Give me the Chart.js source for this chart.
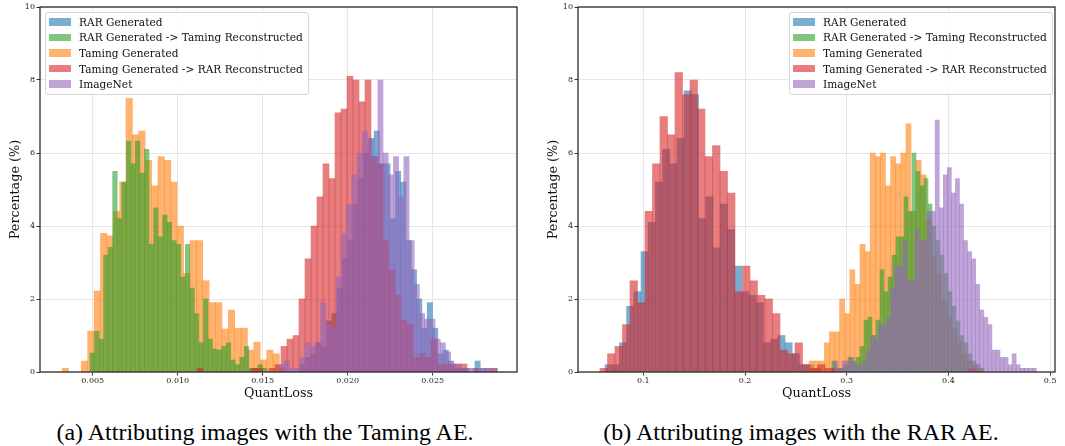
<!DOCTYPE html>
<html><head><meta charset="utf-8">
<script src="https://cdn.jsdelivr.net/npm/chart.js@4.4.1/dist/chart.umd.min.js"></script>
<style>
html,body{margin:0;padding:0;background:#fff;}
#wrap{position:relative;width:1065px;height:446px;overflow:hidden;}
canvas{position:absolute;top:0;}
.legend{position:absolute;top:12px;background:rgba(255,255,255,0.85);border:1px solid #d6d6d6;border-radius:3px;padding:1px 5px 2px 3px;font-family:"DejaVu Serif",serif;font-size:10.6px;color:#111;box-sizing:border-box;}
.row{height:15.6px;display:flex;align-items:center;white-space:nowrap;}
.patch{width:22px;height:7.5px;margin-right:8px;flex:none;}
.cap{position:absolute;top:419px;font-family:"Liberation Serif","Times New Roman",serif;font-size:24px;color:#000;white-space:nowrap;text-align:center;width:540px;}
</style></head>
<body><div id="wrap">
<canvas id="ca" width="530" height="410" style="left:0px"></canvas>
<canvas id="cb" width="527" height="410" style="left:538px"></canvas>
<div class="legend" id="la" style="left:45px;"></div>
<div class="legend" id="lb" style="left:789px;"></div>
<div class="cap" style="left:-5px;">(a) Attributing images with the Taming AE.</div>
<div class="cap" style="left:531px;">(b) Attributing images with the RAR AE.</div>
</div>
<script>
// ---------- shared ----------
const seriesNames = ["RAR Generated", "RAR Generated -> Taming Reconstructed", "Taming Generated", "Taming Generated -> RAR Reconstructed", "ImageNet"];
const yTicks = [0, 2, 4, 6, 8, 10];
const xTitle = "QuantLoss";
const yTitle = "Percentage (%)";

// ---------- Panel (a): Taming AE ----------
const aXTicks = [0.005, 0.010, 0.015, 0.020, 0.025];
const aXRange = [0.0019, 0.02996];
// histogram bins: first bin left edge, bin width; heights (%)
const aRarGenBins = [0.01719, 0.000312];
const aRarGen = [0.2,0.4,0.5,0.8,0.7,1.4,1.6,2.3,3.1,3.6,4.6,5.3,6.0,6.4,6.6,5.7,5.7,4.2,5.5,5.2,3.6,2.8,2.0,1.2,1.9,1.2,0.5,0.6,0.3,0.1,0.1,0.1,0,0.3,0.1];
const aRarToTamBins = [0.00484, 0.000267];
const aRarToTam = [0.52,1.12,0.9,3.2,3.42,5.5,4.2,5.2,6.33,5.7,6.33,5.45,6.1,3.5,4.5,3.7,4.3,4.1,3.6,3.5,2.6,3.5,2.3,1.6,0.8,2.0,0.9,0.63,0.6,0.7,0.8,0.33,0.2,0.4,0.7,0.1,0.1,0.2,0.1];
const aTamGenBins = [0.0032, 0.000376];
const aTamGen = [0.1,0,0,0.3,1.12,2.22,3.8,3.73,4.4,5.2,7.5,6.5,6.6,5.8,5.1,5.9,5.8,5.2,4.0,2.7,3.6,3.6,2.5,1.9,1.9,1.18,1.7,1.2,1.2,0.6,0.82,0.33,0.6,0.5,0.1];
const aTamToRarBins = [0.011135, 0.000353];
const aTamToRar = [0.1,0,0,0,0,0,0,0,0,0.1,0.1,0,0.1,0.2,0.7,0.9,1.0,2.0,3.1,4.0,4.8,5.7,5.3,7.1,7.2,8.1,8.0,7.4,8.0,5.9,5.7,3.6,2.8,2.1,1.42,1.3,0.4,0.5,0.4,0.9,0.22,0.22,0.22,0.22,0.22,0,0.1,0,0.1,0.1];
const aImageNetBins = [0.015959, 0.000306];
const aImageNet = [0.2,0.3,0.1,0.1,0.4,0.8,0.7,0.8,1.9,1.3,1.2,2.6,3.8,4.6,5.4,6.0,6.6,6.35,5.9,8.0,6.0,5.4,5.9,4.8,5.9,3.6,2.4,1.6,1.45,1.45,0.9,0.8,0.55,0.2,0.2,0.1,0.1,0.1,0.1,0.1,0.1,0.1];

// ---------- Panel (b): RAR AE ----------
const bXTicks = [0.1, 0.2, 0.3, 0.4, 0.5];
const bXRange = [0.0358, 0.5048];
const bRarGenBins = [0.06234, 0.00708];
const bRarGen = [0.2,0.2,0.8,1.8,2.2,3.3,4.1,5.2,6.1,5.7,6.4,7.7,7.6,4.2,4.8,3.4,4.6,3.9,2.9,2.2,2.1,1.9,0.8,0.9,1.0,0.8,0.5,0.2,0.2,0.1];
const bRarToTamBins = [0.28555, 0.003933];
const bRarToTam = [0.3,0,0.1,0.2,0.4,0.3,0.4,0.7,1.42,1.5,1.0,1.42,2.8,2.2,2.6,3.2,3.7,3.7,4.8,4.4,6.0,5.5,5.1,5.3,4.6,4.0,3.6,3.2,2.7,2.2,1.8,1.4,1.0,0.8,0.5,0.3,0.2,0.1];
const bTamGenBins = [0.26293, 0.005015];
const bTamGen = [0.3,0.3,0.3,0.8,1.1,1.1,2.0,1.6,2.8,2.4,3.5,3.3,6.0,5.9,6.0,5.1,5.9,5.7,6.0,6.8,4.4,5.8,5.4,4.2,3.2,2.7,2.0,1.5,1.2,0.8,0.5,0.3,0.2,0.1];
const bTamToRarBins = [0.05742, 0.007375];
const bTamToRar = [0.1,0.5,0.7,1.3,2.5,1.9,4.4,5.7,7.0,6.5,8.2,7.6,8.0,7.2,5.9,6.2,5.5,4.9,2.2,2.9,2.5,2.1,2.0,1.6,0.6,0.5,0.8,0.2,0.1,0.2,0.1,0.1,0,0,0,0,0,0,0,0,0,0,0,0,0,0,0,0,0,0.1];
const bImageNetBins = [0.28751, 0.00398];
const bImageNet = [0.3,0.1,0.3,0.3,0.4,0.2,0.2,0.3,0.6,1.0,0.9,1.3,1.3,1.5,2.3,2.9,2.9,3.6,2.5,2.5,3.9,3.6,3.6,4.4,4.4,6.9,4.5,5.4,5.6,4.9,5.3,4.6,3.6,3.3,3.1,2.4,1.7,1.5,1.3,0.6,0.6,0.4,0.4,0.2,0.5,0.2,0.1,0.1,0.1,0.1];

// ---------- styling ----------
const colors = ["rgba(31,119,180,0.6)","rgba(44,160,44,0.6)","rgba(255,127,14,0.6)","rgba(214,39,40,0.6)","rgba(148,103,189,0.6)"];
// drawing layer (higher = drawn earlier / underneath): blue, orange, green, red, purple on top
const drawOrder = [4, 2, 3, 1, 0];
const FONT = "'DejaVu Serif', serif";

function toPoints(bins, h) {
  const pts = [];
  h.forEach((v, i) => { if (v > 0) pts.push({ x: bins[0] + (i + 0.5) * bins[1], y: v }); });
  return pts;
}

const framePlugin = {
  id: 'frame',
  afterDatasetsDraw(chart) {
    const a = chart.chartArea, c = chart.ctx;
    c.save(); c.strokeStyle = '#262626'; c.lineWidth = 1.25;
    c.strokeRect(a.left, a.top, a.right - a.left, a.bottom - a.top);
    c.restore();
  }
};

function build(id, series, xTicks, xRange, fmt, padRight) {
  const datasets = series.map((s, i) => ({
    label: seriesNames[i],
    data: toPoints(s[0], s[1]),
    backgroundColor: colors[i],
    borderWidth: 0,
    grouped: false,
    barThickness: 4,
    order: drawOrder[i],
    _w: s[0][1]
  }));
  const chart = new Chart(document.getElementById(id), {
    type: 'bar',
    data: { datasets },
    plugins: [framePlugin],
    options: {
      responsive: false, animation: false, devicePixelRatio: 1,
      layout: { padding: { left: 0, top: 7, right: padRight, bottom: 9 } },
      plugins: { legend: { display: false }, tooltip: { enabled: false } },
      scales: {
        x: {
          type: 'linear', min: xRange[0], max: xRange[1], offset: false,
          afterBuildTicks: (sc) => { sc.ticks = xTicks.map(v => ({ value: v })); },
          afterFit: (sc) => { sc.height = 29; },
          ticks: { callback: (v) => fmt(v), font: { family: FONT, size: 8 }, color: '#222', padding: 1, maxRotation: 0, autoSkip: false },
          grid: { color: '#e6e6e6', lineWidth: 1, offset: false, drawTicks: true, tickLength: 3.5, tickColor: '#333', tickWidth: 1 },
          border: { display: false },
          title: { display: true, text: xTitle, font: { family: FONT, size: 12.8 }, color: '#111', padding: { top: 0, bottom: 0 } }
        },
        y: {
          min: 0, max: 10,
          afterBuildTicks: (sc) => { sc.ticks = yTicks.map(v => ({ value: v })); },
          afterFit: (sc) => { sc.width = 40; },
          ticks: { callback: (v) => String(v), font: { family: FONT, size: 8 }, color: '#222', padding: 1.5 },
          grid: { color: '#e6e6e6', lineWidth: 1, drawTicks: true, tickLength: 3.5, tickColor: '#333', tickWidth: 1 },
          border: { display: false },
          title: { display: true, text: yTitle, font: { family: FONT, size: 12.8 }, color: '#111', padding: { top: 8, bottom: 0 } }
        }
      }
    }
  });
  const xs = chart.scales.x;
  chart.data.datasets.forEach(ds => {
    ds.barThickness = Math.abs(xs.getPixelForValue(xRange[0] + ds._w) - xs.getPixelForValue(xRange[0]));
  });
  chart.update('none');
  return chart;
}

build('ca', [[aRarGenBins, aRarGen], [aRarToTamBins, aRarToTam], [aTamGenBins, aTamGen], [aTamToRarBins, aTamToRar], [aImageNetBins, aImageNet]],
  aXTicks, aXRange, v => v.toFixed(3), 13);
build('cb', [[bRarGenBins, bRarGen], [bRarToTamBins, bRarToTam], [bTamGenBins, bTamGen], [bTamToRarBins, bTamToRar], [bImageNetBins, bImageNet]],
  bXTicks, bXRange, v => v.toFixed(1), 10);

function legend(id) {
  const el = document.getElementById(id);
  seriesNames.forEach((n, i) => {
    const r = document.createElement('div'); r.className = 'row';
    const p = document.createElement('span'); p.className = 'patch'; p.style.background = colors[i];
    const t = document.createElement('span'); t.textContent = n;
    r.appendChild(p); r.appendChild(t); el.appendChild(r);
  });
}
legend('la'); legend('lb');
</script>
</body></html>
